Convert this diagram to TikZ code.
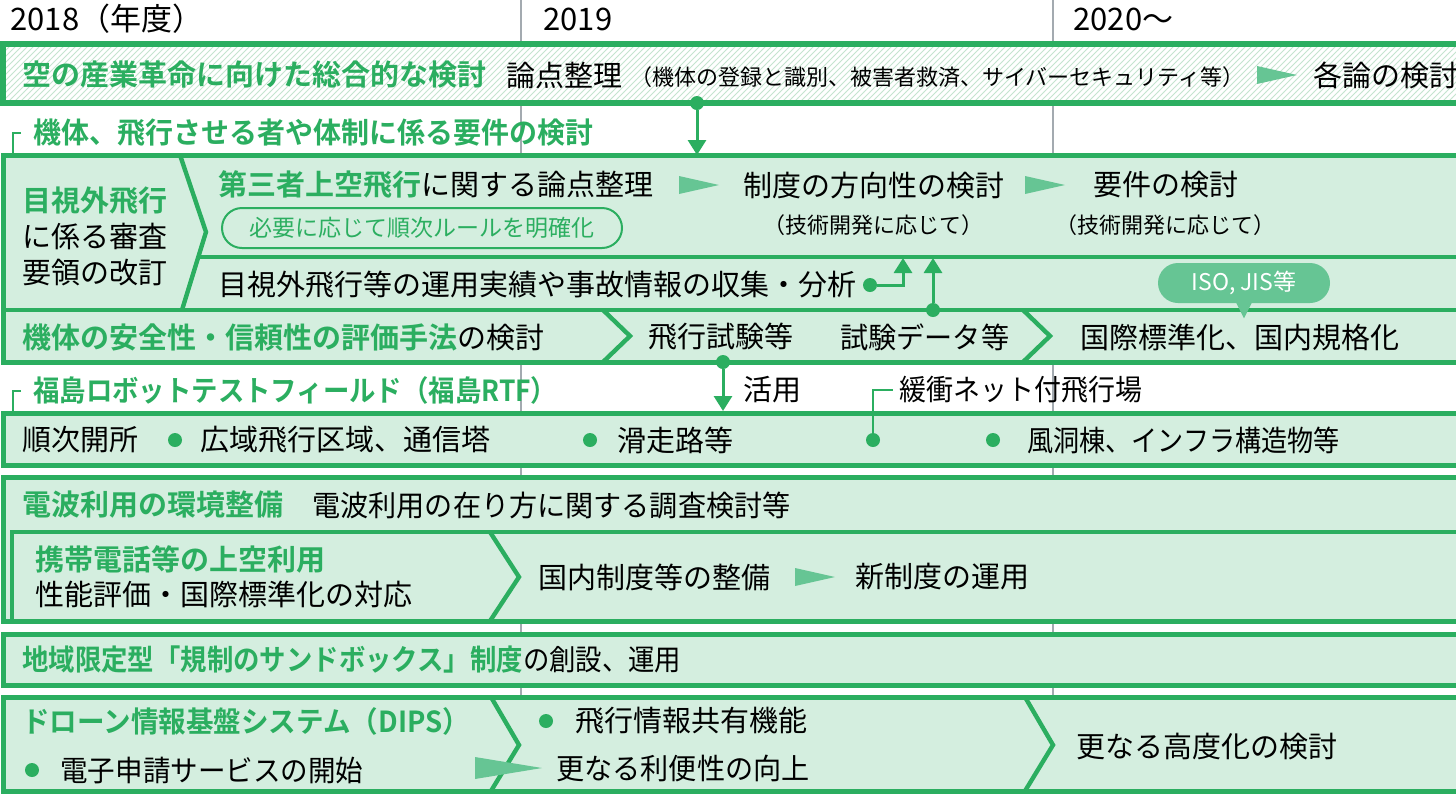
\documentclass[tikz,border=0pt]{standalone}
\usepackage{fontspec}
\setmainfont{Noto Sans CJK JP}[BoldFont={Noto Sans CJK JP Bold}]
\usepackage{graphicx}
\usepackage{tikz}
\usetikzlibrary{arrows.meta}
\usetikzlibrary{positioning}
\usetikzlibrary{patterns}
\definecolor{dgreen}{HTML}{2BAE60}
\definecolor{lgreen}{HTML}{D4EEDF}
\definecolor{mgreen}{HTML}{66C594}
\definecolor{hatchc}{HTML}{C4E4CF}
\definecolor{vgray}{HTML}{A3AAB0}
\newcommand{\bigfont}{\fontsize{14.5}{18}\selectfont}
\newcommand{\yearfont}{\fontsize{15.5}{18}\selectfont}
\newcommand{\midfont}{\fontsize{11.5}{14}\selectfont}
\newcommand{\smallfont}{\fontsize{11}{13}\selectfont}
\newcommand{\narrow}[2]{\scalebox{#1}[1]{#2}}
\newcommand{\stepmark}[2]{\fill[mgreen] (#1,#2) ++(-20,-9) -- ++(40,9) -- ++(-40,9) -- cycle;}

\begin{document}
\begin{tikzpicture}[x=0.5pt,y=-0.5pt,on grid,>={Triangle[width=9pt,length=7.5pt]},
		vline/.style={draw=vgray,line width=1pt},
		box/.style={draw=dgreen,line width=2.5pt,fill=lgreen},
		hatchbox/.style={draw=dgreen,line width=2.7pt,preaction={fill=white},pattern=north east lines,pattern color=hatchc},
		sep/.style={draw=dgreen,line width=2.2pt},
		thinrule/.style={draw=dgreen,line width=1pt},
		conn/.style={draw=dgreen,line width=1.5pt},
		dot/.style={circle,fill=dgreen,inner sep=0pt,minimum size=7pt},
		txt/.style={anchor=west,inner sep=0pt,font=\bigfont},
		head/.style={txt,text=dgreen,font=\bigfont\bfseries},
		note/.style={inner sep=0pt,font=\smallfont},
		rbox/.style={draw=dgreen,line width=1pt,rounded corners=10pt,text=dgreen,font=\midfont,minimum width=200pt,minimum height=20pt,inner sep=0pt},
		pill/.style={fill=mgreen,rounded corners=10pt,text=white,font=\midfont,minimum width=86pt,minimum height=20pt,inner sep=0pt}]
		\useasboundingbox (0,0) rectangle (1456,794);
		\clip (0,0) rectangle (1456,794);
		
		\draw[vline] (521,0) -- (521,794);
		\draw[vline] (1053,0) -- (1053,794);
		\node[txt,font=\yearfont] (y2018) at (10,19) {2018（年度）};
		\node[txt,font=\yearfont] (y2019) at (543,19) {2019};
		\node[txt,font=\yearfont] (y2020) at (1073,19) {2020～};
		
		\draw[hatchbox] (3,44) rectangle (1470,103);
		\node[head] (sky)       at (22,75)   {空の産業革命に向けた総合的な検討};
		\node[txt]  (issues)    at (506,75)  {論点整理};
		\node[txt,font=\smallfont] (issuelist) at (630,77) {（機体の登録と識別、被害者救済、サイバーセキュリティ等）};
		\stepmark{1277}{75}
		\node[txt]  (each)      at (1313,75) {各論の検討};
		\node[dot]  (skydot)    at (697,103) {};
		\coordinate (reqtop)    at (697,155);
		\draw[conn,->] (skydot) -- (reqtop);
		
		\node[head] (reqhead) at (33,133) {\narrow{0.965}{機体、飛行させる者や体制に係る要件の検討}};
		\draw[thinrule] (21,133) -| (13,155);
		\draw[box] (3,155) rectangle (1470,362);
		\draw[sep] (198,257) -- (1470,257);
		\draw[sep] (3,310) -- (1470,310);
		\draw[sep] (180,155) -- (206,232) -- (182,310);
		\draw[sep] (603,310) -- (630,336) -- (603,362);
		\draw[sep] (1023,310) -- (1050,336) -- (1023,362);
		
		\node[txt,align=left] (bvlos) at (22,236) {\textcolor{dgreen}{\bfseries 目視外飛行}\\に係る審査\\要領の改訂};
		\node[txt]  (third)      at (218,185) {\textcolor{dgreen}{\bfseries 第三者上空飛行}に関する論点整理};
		\node[rbox] (clarify)    at (422,228) {必要に応じて順次ルールを明確化};
		\stepmark{699}{185}
		\node[txt]  (policy)     at (743,185) {制度の方向性の検討};
		\node[note] (policynote) [below=20pt of policy] {（技術開発に応じて）};
		\stepmark{1045}{185}
		\node[txt]  (reqs)       at (1093,185) {要件の検討};
		\node[note] (reqsnote)   [below=20pt of reqs] {（技術開発に応じて）};
		
		\node[txt]  (records)    at (218,285) {目視外飛行等の運用実績や事故情報の収集・分析};
		\node[dot]  (recdot)     at (870,285) {};
		\coordinate (rectip)     at (903,258);
		\draw[conn,->] (recdot) -| (rectip);
		\node[pill] (iso)        at (1244,283) {ISO, JIS等};
		\fill[mgreen] (iso.south) ++(-8,-1) -- ++(16,0) -- ++(-8,16) -- cycle;
		
		\node[txt]  (evalm)      at (22,337)   {\textcolor{dgreen}{\bfseries 機体の安全性・信頼性の評価手法}の検討};
		\node[txt]  (flight)     at (648,337)  {飛行試験等};
		\node[txt]  (testdata)   at (840,337)  {\narrow{0.97}{試験データ等}};
		\node[txt]  (standard)   at (1080,337) {国際標準化、国内規格化};
		\node[dot]  (datadot)    at (933,310)  {};
		\coordinate (datatip)    at (933,258);
		\draw[conn,->] (datadot) -- (datatip);
		\node[dot]  (flightdot)  at (723,362)  {};
		\coordinate (rtftop)     at (723,411);
		\draw[conn,->] (flightdot) -- (rtftop);
		\node[txt]  (use)        at (743,390)  {活用};
		
		\node[head] (rtfhead) at (33,390) {\narrow{0.91}{福島ロボットテストフィールド（福島RTF）}};
		\draw[thinrule] (21,391) -| (13,413);
		\draw[box] (3,413) rectangle (1470,465);
		\node[txt]  (open)     at (22,440)  {順次開所};
		\node[dot]  (opendot1) at (175,440) {};
		\node[txt]  (wide)     at (200,440) {広域飛行区域、通信塔};
		\node[dot]  (opendot2) at (590,440) {};
		\node[txt]  (runway)   at (617,440) {滑走路等};
		\node[dot]  (opendot3) at (873,440) {};
		\node[txt]  (net)      at (899,390) {\narrow{0.93}{緩衝ネット付飛行場}};
		\draw[thinrule] (opendot3) |- ([xshift=-3pt]net.west);
		\node[dot]  (opendot4) at (993,440) {};
		\node[txt]  (wind)     at (1027,440) {\narrow{0.9}{風洞棟、インフラ構造物等}};
		
		\draw[box] (3,477) rectangle (1470,621);
		\node[head] (radiohead)  at (22,505)  {電波利用の環境整備};
		\node[txt]  (radiostudy) at (312,505) {\narrow{0.97}{電波利用の在り方に関する調査検討等}};
		\draw[sep] (12,621) -- (12,532) -- (1470,532);
		\draw[sep] (490,532) -- (519,577) -- (490,621);
		\node[txt,align=left,font=\fontsize{14.5}{17.5}\selectfont] (mobile) at (35,577) {\textcolor{dgreen}{\bfseries 携帯電話等の上空利用}\\性能評価・国際標準化の対応};
		\node[txt]  (domestic)   at (538,577) {国内制度等の整備};
		\stepmark{815}{577}
		\node[txt]  (newsys)     at (855,577) {新制度の運用};
		
		\draw[box] (3,634) rectangle (1470,685);
		\node[txt]  (sandbox) at (22,660) {\narrow{0.91}{\textcolor{dgreen}{\bfseries 地域限定型「規制のサンドボックス」制度}の創設、運用}};
		
		\draw[box] (3,697) rectangle (1470,791);
		\draw[sep] (491,697) -- (519,745) -- (491,791);
		\draw[sep] (1025,697) -- (1053,745) -- (1025,791);
		\node[head] (dips)     at (22,721)  {\narrow{0.95}{ドローン情報基盤システム（DIPS）}};
		\node[dot]  (dipsdot1) at (32,770)  {};
		\node[txt]  (eapp)     at (60,770)  {\narrow{0.95}{電子申請サービスの開始}};
		\fill[mgreen] (475,757) -- (542,768) -- (475,779) -- cycle;
		\node[dot]  (dipsdot2) at (546,721) {};
		\node[txt]  (share)    at (575,721) {飛行情報共有機能};
		\node[txt]  (conv)     at (556,768) {\narrow{0.97}{更なる利便性の向上}};
		\node[txt]  (adv)      at (1076,747) {更なる高度化の検討};
\end{tikzpicture}
\end{document}
